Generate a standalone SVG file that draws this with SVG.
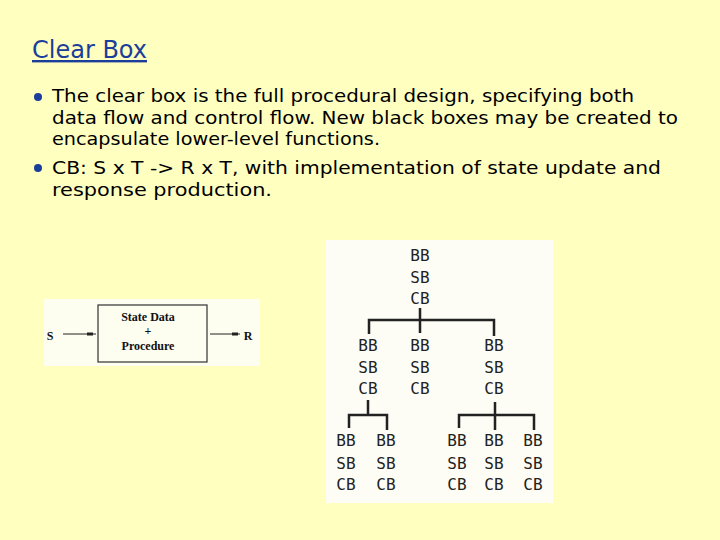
<svg xmlns="http://www.w3.org/2000/svg" width="720" height="540" viewBox="0 0 720 540">
<style>
.b{font-family:"DejaVu Sans",sans-serif;font-size:17px;fill:#000}
.m{font-family:"DejaVu Sans Mono","Liberation Mono",monospace;font-size:16px;fill:#222;text-anchor:middle}
.s{font-family:"Liberation Serif",serif;font-size:12px;font-weight:bold;fill:#111;text-anchor:middle}
.l{stroke:#222;stroke-width:2.5;fill:none}
</style>
<rect width="720" height="540" fill="#ffffc0"/>
<text x="32" y="58" font-family="DejaVu Sans,sans-serif" font-size="24" fill="#1a3e9a" text-decoration="underline">Clear Box</text>
<circle cx="38" cy="97" r="4" fill="#1a3e9a"/>
<circle cx="38" cy="168" r="4" fill="#1a3e9a"/>
<text class="b" x="52" y="102" textLength="582" lengthAdjust="spacingAndGlyphs">The clear box is the full procedural design, specifying both</text>
<text class="b" x="52" y="124" textLength="626" lengthAdjust="spacingAndGlyphs">data flow and control flow. New black boxes may be created to</text>
<text class="b" x="52" y="145" textLength="328" lengthAdjust="spacingAndGlyphs">encapsulate lower-level functions.</text>
<text class="b" x="52" y="174" textLength="609" lengthAdjust="spacingAndGlyphs">CB: S x T -&gt; R x T, with implementation of state update and</text>
<text class="b" x="52" y="196" textLength="220" lengthAdjust="spacingAndGlyphs">response production.</text>
<g id="cbox">
<rect x="44" y="299" width="216" height="67" fill="#fdfdf0"/>
<rect x="98" y="305" width="109" height="57" fill="none" stroke="#333" stroke-width="1.2"/>
<text class="s" x="50" y="340" text-anchor="start">S</text>
<text class="s" x="248" y="340">R</text>
<line x1="63" y1="334" x2="96" y2="334" stroke="#222" stroke-width="1"/>
<rect x="87" y="332.5" width="6" height="3" fill="#222"/>
<line x1="210" y1="334" x2="240" y2="334" stroke="#222" stroke-width="1"/>
<rect x="232" y="332.5" width="6" height="3" fill="#222"/>
<text class="s" x="148" y="321">State Data</text>
<text class="s" x="148" y="335">+</text>
<text class="s" x="148" y="350">Procedure</text>
</g>
<rect x="326" y="240" width="227" height="263" fill="#fdfdf5"/>
<g id="connectors">
<path class="l" d="M420 308V330M369 334V320H494V336M349 428V415H387V430M420 320V333M368 400V415M495 402V428M459 428V415H534V430M495 415V430"/>
</g>
<g id="root"><text class="m" x="420" y="261">BB</text><text class="m" x="420" y="283">SB</text><text class="m" x="420" y="304">CB</text></g>
<g id="n1"><text class="m" x="368" y="351">BB</text><text class="m" x="368" y="373">SB</text><text class="m" x="368" y="394">CB</text></g>
<g id="n2"><text class="m" x="420" y="351">BB</text><text class="m" x="420" y="373">SB</text><text class="m" x="420" y="394">CB</text></g>
<g id="n3"><text class="m" x="494" y="351">BB</text><text class="m" x="494" y="373">SB</text><text class="m" x="494" y="394">CB</text></g>
<g id="l1"><text class="m" x="346" y="446">BB</text><text class="m" x="346" y="469">SB</text><text class="m" x="346" y="490">CB</text></g>
<g id="l2"><text class="m" x="386" y="446">BB</text><text class="m" x="386" y="469">SB</text><text class="m" x="386" y="490">CB</text></g>
<g id="l3"><text class="m" x="457" y="446">BB</text><text class="m" x="457" y="469">SB</text><text class="m" x="457" y="490">CB</text></g>
<g id="l4"><text class="m" x="494" y="446">BB</text><text class="m" x="494" y="469">SB</text><text class="m" x="494" y="490">CB</text></g>
<g id="l5"><text class="m" x="533" y="446">BB</text><text class="m" x="533" y="469">SB</text><text class="m" x="533" y="490">CB</text></g>
</svg>
